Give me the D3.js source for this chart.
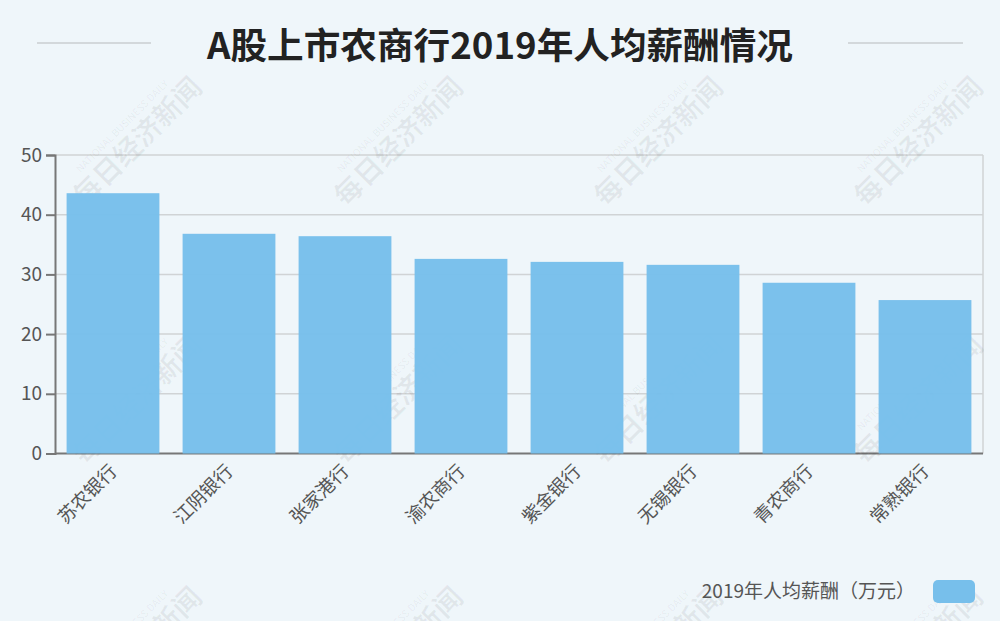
<!DOCTYPE html>
<html>
<head>
<meta charset="utf-8">
<script src="https://cdn.jsdelivr.net/npm/d3@7"></script>
<style>
  body { margin: 0; background: #eff6fa; }
  svg { display: block; }
  text { font-family: "Noto Sans CJK SC", "Noto Sans", sans-serif; }
</style>
</head>
<body>
<div id="chart"></div>
<script>
// data
const banks = ["苏农银行", "江阴银行", "张家港行", "渝农商行", "紫金银行", "无锡银行", "青农商行", "常熟银行"];
const pay2019 = [43.6, 36.8, 36.4, 32.6, 32.1, 31.6, 28.6, 25.7];
const yTicks = [0, 10, 20, 30, 40, 50];
const title = "A股上市农商行2019年人均薪酬情况";
const legendLabel = "2019年人均薪酬（万元）";

const W = 1000, H = 621;
const plot = { left: 55, right: 983, top: 155, bottom: 453.5 };

const svg = d3.select("#chart").append("svg")
    .attr("width", W)
    .attr("height", H);

svg.append("rect")
    .attr("width", W)
    .attr("height", H)
    .attr("fill", "#eff6fa");

// title + side rules
svg.append("text")
    .attr("x", W / 2)
    .attr("y", 59)
    .attr("text-anchor", "middle")
    .attr("font-size", 36)
    .attr("font-weight", "bold")
    .attr("fill", "#222")
    .attr("textLength", 586)
    .attr("lengthAdjust", "spacingAndGlyphs")
    .text(title);

[[37, 151], [848, 963]].forEach(d => {
    svg.append("line")
        .attr("x1", d[0]).attr("x2", d[1])
        .attr("y1", 43).attr("y2", 43)
        .attr("stroke", "#d3d8db")
        .attr("stroke-width", 2);
});

const x = d3.scaleBand()
    .domain(banks)
    .range([plot.left, plot.right])
    .paddingInner(0.2)
    .paddingOuter(0.1);

const y = d3.scaleLinear()
    .domain([0, 50])
    .range([plot.bottom, plot.top]);

// grid lines
svg.append("g")
    .selectAll("line")
    .data(yTicks.filter(d => d > 0))
    .join("line")
    .attr("x1", plot.left).attr("x2", plot.right)
    .attr("y1", d => y(d)).attr("y2", d => y(d))
    .attr("stroke", "#d0d3d5")
    .attr("stroke-width", 1.5);

// right frame
svg.append("line")
    .attr("x1", plot.right).attr("x2", plot.right)
    .attr("y1", plot.top).attr("y2", plot.bottom)
    .attr("stroke", "#d0d3d5")
    .attr("stroke-width", 1.5);

// bottom axis line (bars sit on top of it)
svg.append("line")
    .attr("x1", plot.left).attr("x2", plot.right)
    .attr("y1", plot.bottom).attr("y2", plot.bottom)
    .attr("stroke", "#777")
    .attr("stroke-width", 2);

// watermarks
const wmX = [136, 397, 657, 917];
const wmY = [140, 398, 650];
const wm = svg.append("g").attr("pointer-events", "none");
wmY.forEach(cy => wmX.forEach(cx => {
    const g = wm.append("g")
        .attr("transform", `translate(${cx},${cy}) rotate(-45)`);
    g.append("text")
        .attr("text-anchor", "middle")
        .attr("y", 12)
        .attr("font-size", 28)
        .attr("font-weight", "bold")
        .attr("fill", "#000")
        .attr("fill-opacity", 0.06)
        .text("每日经济新闻");
    g.append("text")
        .attr("text-anchor", "middle")
        .attr("y", -16)
        .attr("font-size", 10)
        .attr("fill", "#000")
        .attr("fill-opacity", 0.06)
        .text("NATIONAL BUSINESS DAILY");
}));

// bars
svg.append("g")
    .selectAll("rect")
    .data(pay2019)
    .join("rect")
    .attr("x", (d, i) => x(banks[i]))
    .attr("y", d => y(d))
    .attr("width", x.bandwidth())
    .attr("height", d => y(0) - y(d))
    .attr("fill", "#77bfeb")
    .attr("fill-opacity", 0.97);

// y axis
const yAxis = svg.append("g")
    .attr("transform", `translate(${plot.left},0)`)
    .call(d3.axisLeft(y).tickValues(yTicks).tickSize(9).tickPadding(4));
yAxis.select(".domain").attr("stroke", "#777").attr("stroke-width", 2);
yAxis.selectAll(".tick line").attr("stroke", "#777").attr("stroke-width", 2);
yAxis.selectAll(".tick text")
    .attr("font-size", 19)
    .attr("fill", "#555")
    .attr("font-family", "'Open Sans', 'Noto Sans', sans-serif");

// x labels
svg.append("g")
    .selectAll("text")
    .data(banks)
    .join("text")
    .attr("transform", d => `translate(${x(d) + x.bandwidth() / 2 + 5},${plot.bottom + 19}) rotate(-45)`)
    .attr("text-anchor", "end")
    .attr("font-size", 18.5)
    .attr("fill", "#555")
    .text(d => d);

// legend
svg.append("text")
    .attr("x", 915)
    .attr("y", 598)
    .attr("text-anchor", "end")
    .attr("font-size", 19)
    .attr("fill", "#555")
    .text(legendLabel);

svg.append("rect")
    .attr("x", 933)
    .attr("y", 580)
    .attr("width", 42)
    .attr("height", 23)
    .attr("rx", 5)
    .attr("fill", "#77bfeb");
</script>
</body>
</html>
